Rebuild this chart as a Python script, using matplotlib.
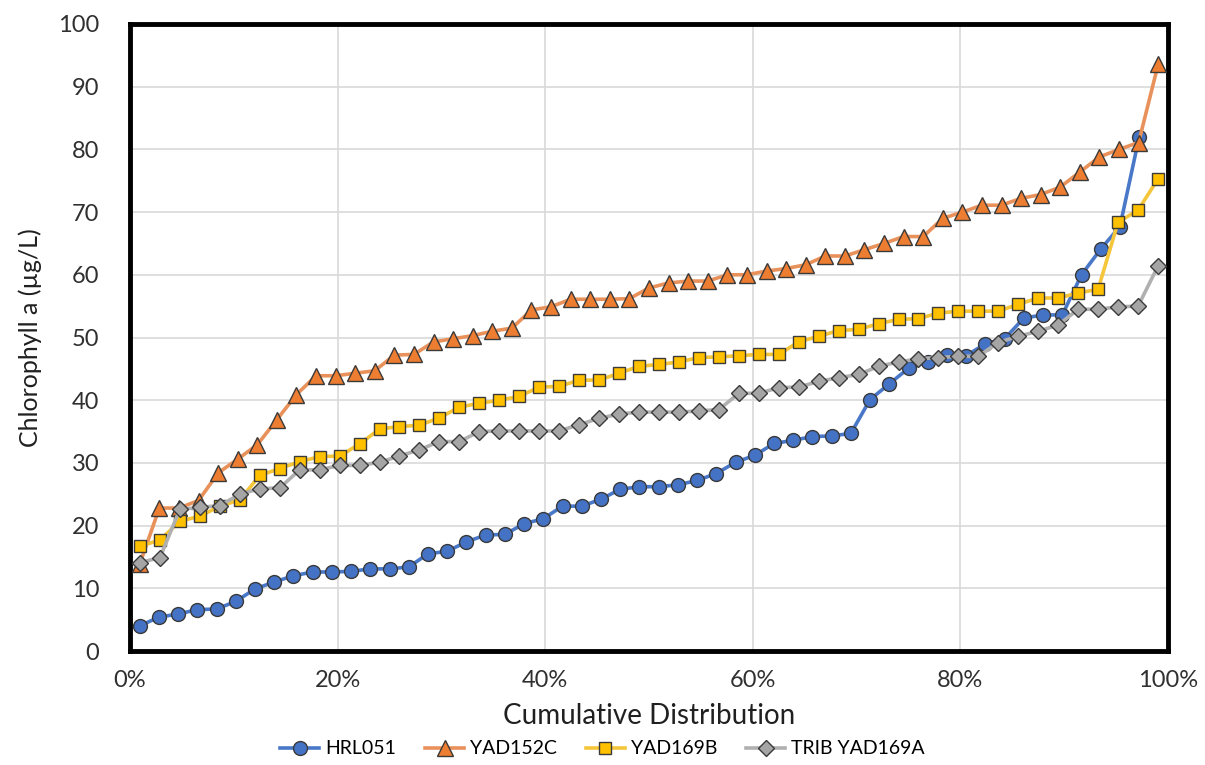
#!/usr/bin/env python
# -*- coding:utf-8 -*-
"""
Cumulative distribution of chlorophyll a at four stations.
"""

import numpy as np
from matplotlib import pyplot as plt
from matplotlib.ticker import PercentFormatter

plt.rc("font", family=["Lato", "DejaVu Sans"])

# Sorted chlorophyll a values (ug/L), one list per station
hrl051 = [4.0, 5.4, 5.9, 6.6, 6.7, 7.9, 9.9, 11.0, 12.0, 12.6, 12.6, 12.7,
	13.1, 13.1, 13.4, 15.5, 15.9, 17.4, 18.5, 18.6, 20.3, 21.1, 23.1, 23.1,
	24.2, 25.8, 26.2, 26.2, 26.5, 27.2, 28.3, 30.1, 31.2, 33.1, 33.6, 34.2,
	34.3, 34.7, 40.1, 42.6, 45.1, 46.1, 47.2, 47.1, 49.0, 49.8, 53.1, 53.6,
	53.6, 60.0, 64.1, 67.7, 82.0]
yad152c = [13.9, 22.8, 22.8, 24.0, 28.4, 30.6, 32.9, 36.9, 40.9, 43.9, 43.9,
	44.3, 44.7, 47.2, 47.3, 49.3, 49.8, 50.3, 51.0, 51.5, 54.4, 54.9, 56.1,
	56.1, 56.1, 56.2, 57.9, 58.7, 59.0, 59.0, 60.0, 60.0, 60.6, 61.0, 61.6,
	63.0, 63.0, 64.0, 65.0, 66.1, 66.1, 69.0, 70.0, 71.1, 71.1, 72.2, 72.8,
	74.0, 76.4, 78.8, 80.0, 81.1, 93.6]
yad169b = [16.7, 17.7, 20.7, 21.5, 23.1, 24.1, 28.0, 29.1, 30.2, 31.0, 31.1,
	33.0, 35.4, 35.8, 36.0, 37.2, 38.9, 39.5, 40.0, 40.6, 42.1, 42.2, 43.2,
	43.2, 44.3, 45.4, 45.7, 46.1, 46.8, 46.9, 47.1, 47.3, 47.3, 49.3, 50.2,
	51.1, 51.3, 52.2, 52.9, 53.0, 53.9, 54.2, 54.2, 54.2, 55.3, 56.3, 56.3,
	57.1, 57.7, 68.4, 70.3, 75.3]
tribYad169a = [14.1, 14.9, 22.6, 22.9, 23.2, 25.0, 25.9, 26.0, 28.9, 28.9,
	29.6, 29.6, 30.1, 31.1, 32.1, 33.4, 33.4, 35.0, 35.1, 35.1, 35.1, 35.1,
	36.1, 37.1, 37.8, 38.1, 38.1, 38.1, 38.3, 38.5, 41.1, 41.1, 42.0, 42.1,
	43.0, 43.6, 44.1, 45.4, 46.1, 46.6, 46.8, 47.0, 47.0, 49.2, 50.2, 51.0,
	52.0, 54.5, 54.5, 54.9, 55.0, 61.4]

# Sample size used for the plotting positions (HRL051 has one blank sample)
nHrl = 54

labels = ["HRL051", "YAD152C", "YAD169B", "TRIB YAD169A"]
colList = ["#4472C4", "#ED7D31", "#FFC000", "#A5A5A5"]
lineCols = ["#4A78C8", "#E9915A", "#F5C53A", "#B0B0B0"]
markers = ["o", "^", "s", "D"]
mSizes = [10, 11, 8.5, 8.5]


def cumPos(vals, n=None):
	"""Plotting positions (i - 0.5) / n for a sorted sample."""
	if n == None:
		n = len(vals)
	return (np.arange(1, len(vals) + 1) - 0.5) / n


fig = plt.figure(figsize=(12.05, 7.65), dpi=100)
ax = fig.add_axes([130 / 1205., 1 - 651 / 765., 1038 / 1205., 627 / 765.])

series = [hrl051, yad152c, yad169b, tribYad169a]
for i, vals in enumerate(series):
	if i == 0:
		x = cumPos(vals, nHrl)
	else:
		x = cumPos(vals)
	ax.plot(x, vals, color=lineCols[i], linewidth=2.6, marker=markers[i],
		markersize=mSizes[i], markerfacecolor=colList[i],
		markeredgecolor="#3A3A3A", markeredgewidth=1.0, label=labels[i],
		zorder=3 + i)

ax.set_xlim(0, 1)
ax.set_ylim(0, 100)
ax.set_xticks(np.arange(0, 1.01, 0.2))
ax.set_yticks(np.arange(0, 101, 10))
ax.xaxis.set_major_formatter(PercentFormatter(1.0, decimals=0))
ax.grid(True, color="#D9D9D9", linewidth=1.2)
ax.set_axisbelow(True)
ax.tick_params(length=0, labelsize=17, labelcolor="#303030")
ax.tick_params(axis="x", pad=14)
ax.tick_params(axis="y", pad=22)
for sp in ax.spines.values():
	sp.set_linewidth(3.5)
	sp.set_color("black")

ax.set_xlabel("Cumulative Distribution", fontsize=20, color="#202020",
	labelpad=8)
ax.set_ylabel("Chlorophyll a (µg/L)", fontsize=18, color="#202020",
	labelpad=12)

fig.legend(loc="center", bbox_to_anchor=(0.5, 1 - 749 / 765.), ncol=4,
	frameon=False, fontsize=14, handlelength=2.0, columnspacing=1.5,
	handletextpad=0.3)

plt.savefig("out.png", dpi=100)
